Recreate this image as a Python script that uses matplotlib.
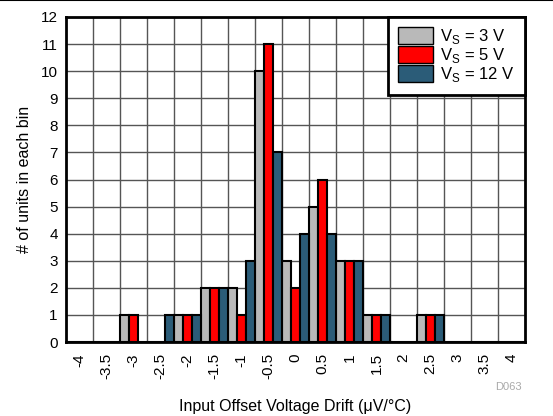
import matplotlib
matplotlib.use("Agg")
import matplotlib.pyplot as plt
import numpy as np
from matplotlib.patches import Patch
from matplotlib.lines import Line2D

plt.rcParams['font.family'] = ['Liberation Sans', 'DejaVu Sans']

categories = ["-4", "-3.5", "-3", "-2.5", "-2", "-1.5", "-1", "-0.5", "0",
              "0.5", "1", "1.5", "2", "2.5", "3", "3.5", "4"]
vs3 = [0, 0, 1, 0, 1, 2, 2, 10, 3, 5, 3, 1, 0, 1, 0, 0, 0]
vs5 = [0, 0, 1, 0, 1, 2, 1, 11, 2, 6, 3, 1, 0, 1, 0, 0, 0]
vs12 = [0, 0, 0, 1, 1, 2, 3, 7, 4, 4, 3, 1, 0, 1, 0, 0, 0]
series_labels = ["V$_\\mathregular{S}$ = 3 V", "V$_\\mathregular{S}$ = 5 V", "V$_\\mathregular{S}$ = 12 V"]
colors = ["#B9B9B9", "#FF0000", "#2B5C78"]

fig = plt.figure(figsize=(5.53, 4.16), dpi=100)
ax = fig.add_axes([66/553, 1 - 342/416, (525-66)/553, (342-17)/416])

x = np.arange(len(categories))
w = 1/3
for i, (vals, c) in enumerate(zip([vs3, vs5, vs12], colors)):
    ax.bar(x + (i - 1) * w, vals, width=w, color=c, edgecolor='black', linewidth=1.5, zorder=3)

ax.set_xlim(-0.5, len(categories) - 0.5)
ax.set_ylim(0, 12)
ax.set_yticks(np.arange(0, 13, 1))
ax.set_xticks(x)
ax.set_xticklabels(categories, rotation=90)
ax.set_xticks(np.arange(0.5, len(categories) - 0.5, 1), minor=True)
ax.tick_params(axis='both', which='both', length=0, labelsize=11)
ax.tick_params(axis='x', pad=8)
ax.tick_params(axis='y', pad=6)
ax.grid(True, axis='x', which='minor', color='#555555', linewidth=1.0, zorder=0)
ax.grid(True, axis='y', which='major', color='#555555', linewidth=1.0, zorder=0)
ax.grid(False, axis='x', which='major')
for s in ax.spines.values():
    s.set_linewidth(2)
    s.set_zorder(5)

ax.set_ylabel("# of units in each bin", fontsize=11.5, labelpad=6)
ax.set_xlabel("Input Offset Voltage Drift (\u03bcV/\u00b0C)", fontsize=11.5, labelpad=14)

handles = [Patch(facecolor=c, edgecolor='black', linewidth=1) for c in colors]
leg = ax.legend(handles, series_labels, loc='upper right', fontsize=12,
                fancybox=False, framealpha=1, edgecolor='black',
                labelspacing=0.0, handlelength=2.1, handleheight=1.2,
                handletextpad=0.45, borderpad=0.6, borderaxespad=0.0)
leg.get_frame().set_linewidth(2)
leg.set_zorder(10)

fig.text(522/553, 1 - 387/416, "D063", color='#AAAAAA', fontsize=8, ha='right', va='center')
fig.add_artist(Line2D([0, 1], [0.999, 0.999], color='black', linewidth=1.5, transform=fig.transFigure))

fig.savefig("out.png", dpi=100)
